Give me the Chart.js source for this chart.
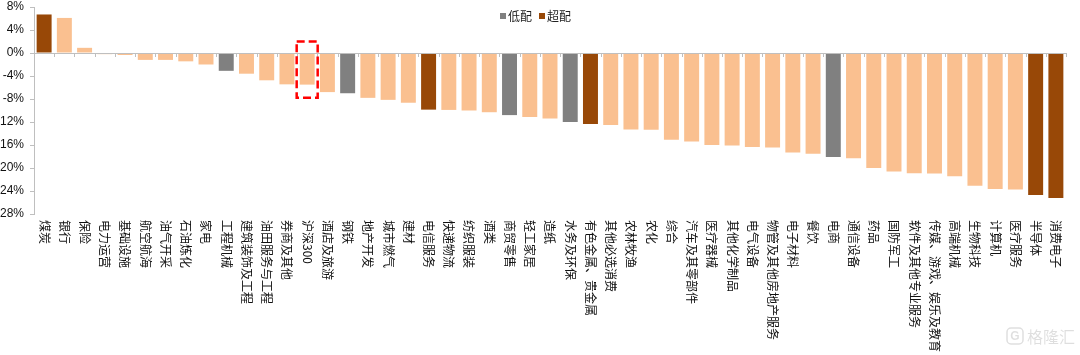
<!DOCTYPE html>
<html>
<head>
<meta charset="utf-8">
<script src="https://cdn.jsdelivr.net/npm/chart.js@4.4.1/dist/chart.umd.min.js"></script>
<style>
html,body{margin:0;padding:0;background:#fff;}
#wrap{width:1080px;height:355px;position:relative;}
</style>
</head>
<body>
<div id="wrap"><canvas id="c" width="1080" height="355"></canvas></div>
<script>
const categories = ['煤炭','银行','保险','电力运营','基础设施','航空航海','油气开采','石油炼化','家电','工程机械',
  '建筑装饰及工程','油田服务与工程','券商及其他','沪深300','酒店及旅游','钢铁','地产开发','城市燃气','建材','电信服务',
  '快递物流','纺织服装','酒类','商贸零售','轻工家居','造纸','水务及环保','有色金属、贵金属','其他必选消费','农林牧渔',
  '农化','综合','汽车及其零部件','医疗器械','其他化学制品','电气设备','物管及其他房地产服务','电子材料','餐饮','电商',
  '通信设备','药品','国防军工','软件及其他专业服务','传媒、游戏、娱乐及教育','高端机械','生物科技','计算机','医疗服务','半导体',
  '消费电子'];
const values = [6.7,6.1,0.9,-0.2,-0.35,-1.2,-1.2,-1.45,-2.0,-3.1,
  -3.6,-4.75,-5.45,-5.5,-6.8,-7.0,-7.8,-8.15,-8.65,-9.85,
  -9.9,-10.0,-10.3,-10.8,-11.15,-11.4,-12.0,-12.35,-12.5,-13.3,
  -13.35,-15.1,-15.4,-16.0,-16.1,-16.35,-16.45,-17.3,-17.5,-18.1,
  -18.3,-20.0,-20.6,-20.9,-20.95,-21.45,-23.1,-23.65,-23.75,-24.7,
  -25.2];
const underweight = ['工程机械','钢铁','商贸零售','水务及环保','电商'];
const overweight = ['煤炭','电信服务','有色金属、贵金属','半导体','消费电子'];
const legendLabels = ['低配','超配'];
const highlighted = '沪深300';
const yTicks = {min:-28, max:8, step:4};

const COL_UNDER = '#808080', COL_OVER = '#984807', COL_OTHER = '#FAC090';
const barColors = categories.map(c => underweight.includes(c) ? COL_UNDER : (overweight.includes(c) ? COL_OVER : COL_OTHER));

const overlay = {
  id:'overlay',
  afterDatasetsDraw(chart){
    const ctx = chart.ctx, xs = chart.scales.x, ys = chart.scales.y, ca = chart.chartArea;
    const y0 = ys.getPixelForValue(0);
    ctx.save();
    // zero axis line
    ctx.strokeStyle = '#BFBFBF'; ctx.lineWidth = 1;
    ctx.beginPath(); ctx.moveTo(ca.left, Math.round(y0)+0.5); ctx.lineTo(ca.right, Math.round(y0)+0.5); ctx.stroke();
    // tick marks at category boundaries
    const n = categories.length;
    ctx.beginPath();
    for(let i=0;i<=n;i++){
      let x;
      if(i===0) x = ca.left; else if(i===n) x = ca.right;
      else x = (xs.getPixelForTick(i-1)+xs.getPixelForTick(i))/2;
      x = Math.round(x)+0.5;
      ctx.moveTo(x, Math.round(y0)); ctx.lineTo(x, Math.round(y0)+4);
    }
    ctx.stroke();
    // rotated category labels (top-to-bottom)
    ctx.fillStyle = '#111';
    ctx.font = '12px "Noto Sans CJK SC", "Liberation Sans", sans-serif';
    ctx.textAlign = 'left'; ctx.textBaseline = 'middle';
    categories.forEach((c,i)=>{
      const x = xs.getPixelForTick(i);
      ctx.save();
      ctx.translate(x, ca.bottom + 6);
      ctx.rotate(Math.PI/2);
      ctx.fillText(c, 0, 0);
      ctx.restore();
    });
    // red dashed highlight box
    const hi = categories.indexOf(highlighted);
    const hx = xs.getPixelForTick(hi);
    const top = ys.getPixelForValue(2.0), bot = ys.getPixelForValue(-7.8);
    ctx.strokeStyle = '#FF0000'; ctx.lineWidth = 2.5; ctx.setLineDash([8,4]);
    ctx.strokeRect(hx-10.5, top, 21, bot-top);
    ctx.setLineDash([]);
    // legend
    ctx.font = '12px "Noto Sans CJK SC", sans-serif';
    ctx.textBaseline = 'middle'; ctx.textAlign = 'left';
    let lx = 500; const ly = 16;
    [[COL_UNDER, legendLabels[0]],[COL_OVER, legendLabels[1]]].forEach(([col,t])=>{
      ctx.fillStyle = col; ctx.fillRect(lx, ly-3, 6, 6);
      ctx.fillStyle = '#222'; ctx.fillText(t, lx+8, ly);
      lx += 8 + ctx.measureText(t).width + 7;
    });
    // watermark
    ctx.fillStyle = 'rgba(0,0,0,0.13)';
    ctx.strokeStyle = 'rgba(0,0,0,0.13)'; ctx.lineWidth = 1.5;
    ctx.beginPath();
    if (ctx.roundRect) ctx.roundRect(1007, 328, 16, 16, 4); else ctx.rect(1007,328,16,16);
    ctx.stroke();
    ctx.font = 'bold 12px "Liberation Sans", sans-serif'; ctx.textAlign='center';
    ctx.fillText('G', 1015, 337);
    ctx.font = '16px "Noto Sans CJK SC", sans-serif'; ctx.textAlign='left';
    ctx.fillText('格隆汇', 1027, 337);
    ctx.restore();
  }
};

new Chart(document.getElementById('c'), {
  type:'bar',
  data:{
    labels: categories,
    datasets:[{
      data: values,
      backgroundColor: barColors,
      borderWidth: 0,
      categoryPercentage: 1.0,
      barPercentage: 0.74
    }]
  },
  options:{
    responsive:false,
    animation:false,
    devicePixelRatio:1,
    layout:{padding:{top:0, right:14, left:0, bottom:0}},
    plugins:{legend:{display:false}, tooltip:{enabled:false}},
    scales:{
      x:{
        offset:true,
        ticks:{display:false},
        grid:{display:false},
        border:{display:false},
        afterFit(s){ s.height = 141; }
      },
      y:{
        min:yTicks.min, max:yTicks.max,
        ticks:{stepSize:yTicks.step, callback:v=>v+'%', color:'#111', padding:6,
          font:{family:'"Liberation Sans", Arial, sans-serif', size:12, lineHeight:'2px'}},
        grid:{drawOnChartArea:false, drawTicks:true, tickLength:4, color:'#BFBFBF'},
        border:{display:true, color:'#BFBFBF'},
        afterFit(s){ s.width = 34; }
      }
    }
  },
  plugins:[overlay]
});
</script>
</body>
</html>
